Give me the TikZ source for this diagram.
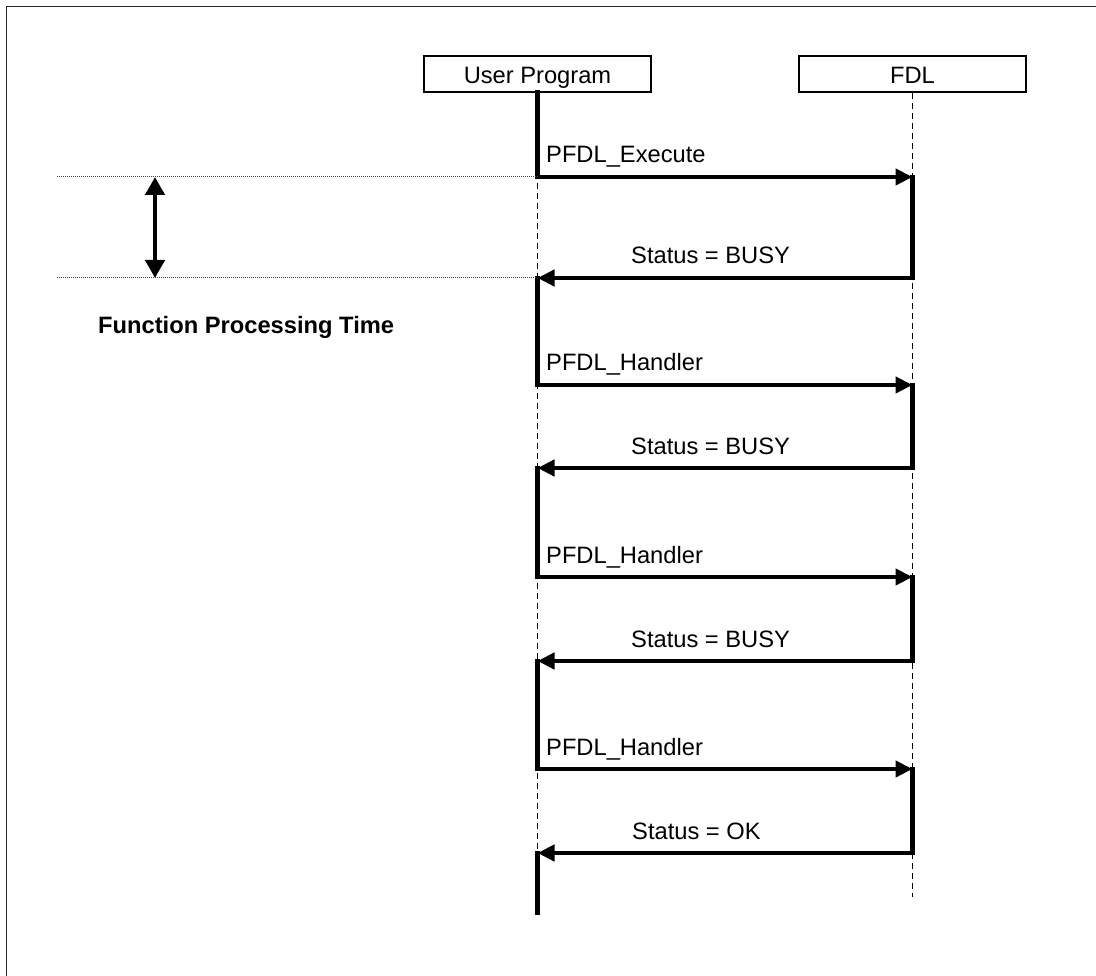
\documentclass[tikz,border=0pt]{standalone}
\usepackage{fontspec}
\setmainfont{Liberation Sans}
\usetikzlibrary{arrows.meta}
\begin{document}
\begin{tikzpicture}[x=1pt,y=-1pt,
  txt/.style={font=\fontsize{23.7}{28}\selectfont, inner sep=0pt},
  lbl/.style={txt, anchor=base west},
  head/.style={txt, draw, line width=1.4pt, minimum width=227pt, minimum height=36pt, text height=22pt, text depth=3pt},
  life/.style={line width=1.2pt, dash pattern=on 6pt off 4pt},
  act/.style={line width=4.7pt, line cap=rect},
  msg/.style={act, -{Triangle[length=17pt,width=16pt]}},
  guide/.style={line width=1pt, black!75, dash pattern=on 1pt off 1pt},
  span/.style={line width=4.5pt, {Triangle[length=18pt,width=19pt]}-{Triangle[length=18pt,width=19pt]}}]
\useasboundingbox (0,0) rectangle (1096,976);
% frame
\draw[line width=1.5pt, black!85] (6.5,976) -- (6.5,6.5) -- (1096,6.5);
% heads
\node[head] (user) at (537.5,74) {User Program};
\node[head] (fdl) at (912.5,74) {FDL};
% lifeline ends
\coordinate (uend) at (537.5,913);
\coordinate (fend) at (912.5,897);
\draw[life] (user.south) -- (uend);
\draw[life] (fdl.south) -- (fend);
% message levels
\foreach \n/\y in {1/177,2/278,3/385,4/468,5/577,6/661,7/769,8/853}{
  \coordinate (u\n) at (537.5,\y);
  \coordinate (f\n) at (912.5,\y);
}
% activations and messages
\draw[msg] (user.south) -- (u1) -- (f1);
\draw[msg] (f1) -- (f2) -- (u2);
\draw[msg] (u2) -- (u3) -- (f3);
\draw[msg] (f3) -- (f4) -- (u4);
\draw[msg] (u4) -- (u5) -- (f5);
\draw[msg] (f5) -- (f6) -- (u6);
\draw[msg] (u6) -- (u7) -- (f7);
\draw[msg] (f7) -- (f8) -- (u8);
\draw[act] (u8) -- (uend);
% labels
\node[lbl] (l1) at (546,163) {PFDL\_Execute};
\node[lbl] (l2) at (631,264) {Status = BUSY};
\node[lbl] (l3) at (546,371) {PFDL\_Handler};
\node[lbl] (l4) at (631,454) {Status = BUSY};
\node[lbl] (l5) at (546,563) {PFDL\_Handler};
\node[lbl] (l6) at (631,647) {Status = BUSY};
\node[lbl] (l7) at (546,755) {PFDL\_Handler};
\node[lbl] (l8) at (632,839) {Status = OK};
% processing time marker
\coordinate (g1) at (57,177);
\coordinate (g2) at (57,278);
\draw[guide] (g1) -- (u1);
\draw[guide] (g2) -- (u2);
\coordinate (s1) at (155,177);
\coordinate (s2) at (155,278);
\draw[span] (s1) -- (s2);
\node[lbl, font=\fontsize{23.7}{28}\selectfont\bfseries] (fpt) at (98,334) {Function Processing Time};
\end{tikzpicture}
\end{document}
